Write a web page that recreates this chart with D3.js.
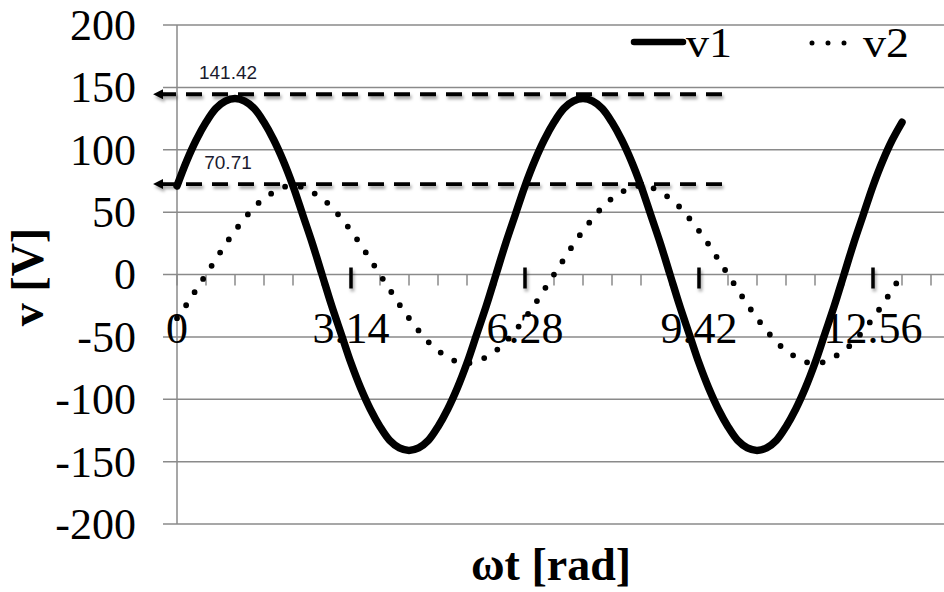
<!DOCTYPE html>
<html>
<head>
<meta charset="utf-8">
<script src="https://cdn.jsdelivr.net/npm/d3@7"></script>
<style>
  body { margin: 0; background: #fff; }
  svg { display: block; }
</style>
</head>
<body>
<svg id="chart" width="944" height="592"></svg>
<script>
// valores (passo de 10 graus por ponto, 0 .. 750 graus)
const v1 = [
  71, 91, 108, 122, 133, 139, 141, 139, 133, 122, 108, 91, 71, 48, 25, 0, -25, -48,
  -71, -91, -108, -122, -133, -139, -141, -139, -133, -122, -108, -91, -71, -48, -25, 0, 25, 48,
  71, 91, 108, 122, 133, 139, 141, 139, 133, 122, 108, 91, 71, 48, 25, 0, -25, -48,
  -71, -91, -108, -122, -133, -139, -141, -139, -133, -122, -108, -91, -71, -48, -25, 0, 25, 48,
  71, 91, 108, 122
];
const v2 = [
  -35, -24, -12, 0, 12, 24, 35, 45, 54, 61, 66, 70, 71, 70, 66, 61, 54, 45,
  35, 24, 12, 0, -12, -24, -35, -45, -54, -61, -66, -70, -71, -70, -66, -61, -54, -45,
  -35, -24, -12, 0, 12, 24, 35, 45, 54, 61, 66, 70, 71, 70, 66, 61, 54, 45,
  35, 24, 12, 0, -12, -24, -35, -45, -54, -61, -66, -70, -71, -70, -66, -61, -54, -45,
  -35, -24, -12, 0
];
const seriesNames = ["v1", "v2"];

// eixo X (categorias) e rótulos
const xLabels = ["0", "3.14", "6.28", "9.42", "12.56"];
const xLabelIdx = [0, 18, 36, 54, 72];
const yTicks = [200, 150, 100, 50, 0, -50, -100, -150, -200];

// setas de referência (texto e nível onde estão desenhadas)
const refTexts = ["141.42", "70.71"];
const refLevels = [144.5, 72.5];

const svg = d3.select("#chart");
const plotLeft = 177, plotTop = 25, plotBottom = 524, gridRight = 944;

const x = d3.scaleLinear().domain([0, 72]).range([plotLeft, 873]);
const y = d3.scaleLinear().domain([-200, 200]).range([plotBottom, plotTop]);

const serif = "'Liberation Serif', 'Times New Roman', serif";
const gridColor = "#8a8a8a";

const defs = svg.append("defs");
const shadow = defs.append("filter").attr("id", "shadow")
  .attr("x", "-10%").attr("y", "-50%").attr("width", "120%").attr("height", "300%");
shadow.append("feDropShadow")
  .attr("dx", 1.5).attr("dy", 3).attr("stdDeviation", 1.6)
  .attr("flood-color", "#000").attr("flood-opacity", 0.35);

defs.append("marker")
  .attr("id", "arrow")
  .attr("viewBox", "0 0 10 10")
  .attr("refX", 1).attr("refY", 5)
  .attr("markerWidth", 3).attr("markerHeight", 2.6)
  .attr("markerUnits", "strokeWidth")
  .attr("orient", "auto")
  .append("path")
  .attr("d", "M10,5 L0,0 L0,10 Z")
  .attr("fill", "#000");

// grelha horizontal
svg.append("g").selectAll("line")
  .data(yTicks)
  .join("line")
  .attr("x1", plotLeft - 14).attr("x2", gridRight)
  .attr("y1", d => y(d)).attr("y2", d => y(d))
  .attr("stroke", gridColor).attr("stroke-width", 1.5);

// eixo vertical
svg.append("line")
  .attr("x1", plotLeft).attr("x2", plotLeft)
  .attr("y1", plotTop).attr("y2", plotBottom)
  .attr("stroke", gridColor).attr("stroke-width", 1.5);

// rótulos Y
svg.append("g").selectAll("text")
  .data(yTicks)
  .join("text")
  .attr("x", 136)
  .attr("y", d => y(d))
  .attr("dy", "0.34em")
  .attr("text-anchor", "end")
  .attr("font-family", serif)
  .attr("font-size", 44)
  .attr("fill", "#000")
  .text(d => d);

// marcas menores do eixo X (a cada 3 pontos)
const minorIdx = d3.range(0, 80, 3);
svg.append("g").selectAll("line")
  .data(minorIdx)
  .join("line")
  .attr("x1", d => x(d)).attr("x2", d => x(d))
  .attr("y1", y(0)).attr("y2", y(0) + 11)
  .attr("stroke", gridColor).attr("stroke-width", 1.5);

// marcas maiores
svg.append("g").attr("filter", "url(#shadow)").selectAll("line")
  .data(xLabelIdx.slice(1))
  .join("line")
  .attr("x1", d => x(d)).attr("x2", d => x(d))
  .attr("y1", y(0) - 7).attr("y2", y(0) + 14)
  .attr("stroke", "#000").attr("stroke-width", 3.5);

// rótulos X
svg.append("g").selectAll("text")
  .data(xLabels)
  .join("text")
  .attr("x", (d, i) => x(xLabelIdx[i]))
  .attr("y", 343)
  .attr("text-anchor", "middle")
  .attr("font-family", serif)
  .attr("font-size", 44)
  .attr("fill", "#000")
  .text(d => d);

// séries
const line = d3.line()
  .x((d, i) => x(i))
  .y(d => y(d))
  .curve(d3.curveCatmullRom);

svg.append("path")
  .datum(v1)
  .attr("d", line)
  .attr("fill", "none")
  .attr("stroke", "#000")
  .attr("stroke-width", 7.5)
  .attr("stroke-linecap", "round")
  .attr("stroke-linejoin", "round");

svg.append("path")
  .datum(v2)
  .attr("d", line)
  .attr("fill", "none")
  .attr("stroke", "#000")
  .attr("stroke-width", 5.8)
  .attr("stroke-linecap", "round")
  .attr("stroke-dasharray", "0 15.7");

// setas tracejadas de referência
svg.append("g").attr("filter", "url(#shadow)").selectAll("line")
  .data(refLevels)
  .join("line")
  .attr("x1", 722).attr("x2", 162)
  .attr("y1", d => y(d)).attr("y2", d => y(d))
  .attr("stroke", "#000")
  .attr("stroke-width", 3.8)
  .attr("stroke-dasharray", "16 10")
  .attr("marker-end", "url(#arrow)");

svg.append("g").selectAll("text")
  .data(refTexts)
  .join("text")
  .attr("x", 228)
  .attr("y", (d, i) => y(refLevels[i]) - 15)
  .attr("text-anchor", "middle")
  .attr("font-family", "'Liberation Sans', Arial, sans-serif")
  .attr("font-size", 19)
  .attr("fill", "#1a1a2e")
  .text(d => d);

// legenda
const leg = svg.append("g");
leg.append("line")
  .attr("x1", 634).attr("x2", 683)
  .attr("y1", 42).attr("y2", 42)
  .attr("stroke", "#000").attr("stroke-width", 6.5)
  .attr("stroke-linecap", "round");
leg.append("line")
  .attr("x1", 812).attr("x2", 860)
  .attr("y1", 43).attr("y2", 43)
  .attr("stroke", "#000").attr("stroke-width", 5)
  .attr("stroke-linecap", "round")
  .attr("stroke-dasharray", "0 16");
leg.selectAll("text")
  .data(seriesNames)
  .join("text")
  .attr("x", (d, i) => [686, 863][i])
  .attr("y", 57)
  .attr("font-family", serif)
  .attr("font-size", 42)
  .attr("textLength", 46)
  .attr("lengthAdjust", "spacingAndGlyphs")
  .attr("fill", "#000")
  .text(d => d);

// títulos dos eixos
svg.append("text")
  .attr("transform", "translate(43,277) rotate(-90)")
  .attr("text-anchor", "middle")
  .attr("font-family", serif)
  .attr("font-weight", "bold")
  .attr("font-size", 46)
  .attr("fill", "#000")
  .text("v [V]");

svg.append("text")
  .attr("x", 551)
  .attr("y", 580)
  .attr("text-anchor", "middle")
  .attr("font-family", serif)
  .attr("font-weight", "bold")
  .attr("font-size", 46)
  .attr("fill", "#000")
  .text("ωt [rad]");
</script>
</body>
</html>
